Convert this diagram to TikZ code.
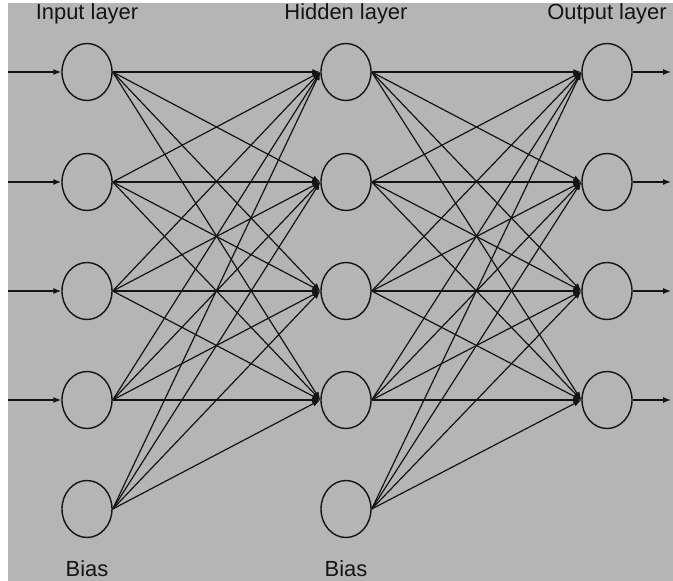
\documentclass[tikz,border=0pt]{standalone}
\usepackage{fontspec}
\setmainfont{Liberation Sans}
\usetikzlibrary{shapes.geometric,arrows.meta}
\definecolor{bg}{RGB}{181,181,181}
\definecolor{ink}{RGB}{20,20,20}
\begin{document}
\begin{tikzpicture}[x=1bp,y=-1bp,
  neuron/.style={draw=ink, line width=1.4bp, ellipse, minimum width=50bp, minimum height=57bp, inner sep=0pt},
  conn/.style={draw=ink, line width=1.2bp, -{Latex[length=8bp,width=6bp]}},
  lab/.style={font=\fontsize{22}{24}\selectfont, anchor=base, inner sep=0pt, text=ink}]
\fill[white] (0,0) rectangle (673,581);
\fill[bg] (8,3) rectangle (673,581);
\useasboundingbox (0,0) rectangle (673,581);
% layers
\foreach \k/\y in {1/72,2/182,3/291,4/400}{
  \node[neuron] (I\k) at (87,\y) {};
  \node[neuron] (H\k) at (346,\y) {};
  \node[neuron] (O\k) at (607,\y) {};
  \coordinate (in\k) at (8,\y);
  \coordinate (out\k) at (671,\y);
}
\node[neuron] (IB) at (87,509) {};
\node[neuron] (HB) at (346,509) {};
% labels
\node[lab] (tin) at (87,20) {Input layer};
\node[lab] (thid) at (346,20) {Hidden layer};
\node[lab] (tout) at (607,20) {Output layer};
\node[lab] (b1) at (87,576) {Bias};
\node[lab] (b2) at (346,576) {Bias};
% connections
\foreach \k in {1,2,3,4}{
  \draw[conn] (in\k) -- (I\k.west);
  \draw[conn] (O\k.east) -- (out\k);
}
\foreach \i in {1,2,3,4,B}{
  \foreach \j in {1,2,3,4}{
    \draw[conn] (I\i.east) -- (H\j.west);
    \draw[conn] (H\i.east) -- (O\j.west);
  }
}
\end{tikzpicture}
\end{document}
